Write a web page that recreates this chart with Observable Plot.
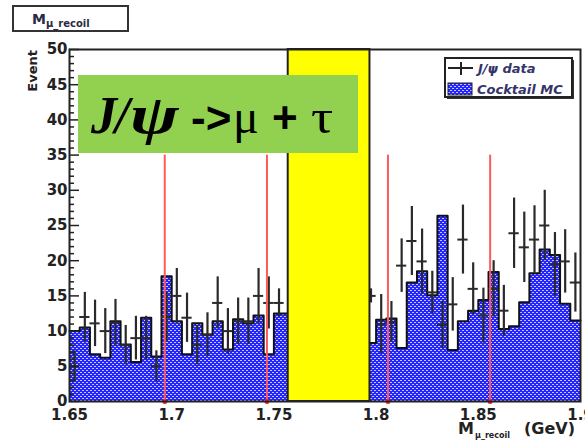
<!DOCTYPE html>
<html>
<head>
<meta charset="utf-8">
<script src="https://cdn.jsdelivr.net/npm/d3@7"></script>
<script src="https://cdn.jsdelivr.net/npm/@observablehq/plot@0.6"></script>
<style>
  body { margin: 0; background: #fff; }
  #chart { width: 585px; height: 441px; overflow: hidden; position: relative; }
  #chart svg { display: block; }
</style>
</head>
<body>
<div id="chart"></div>
<script>
// Recoil mass M(mu_recoil): cocktail MC histogram vs J/psi data, 5 MeV bins.
// Bins under the signal window (1.757–1.797 GeV) are covered and not listed.
const binWidth = 0.005;
const binLow = [
  1.650, 1.655, 1.660, 1.665, 1.670, 1.675, 1.680, 1.685, 1.690, 1.695, 1.700,
  1.705, 1.710, 1.715, 1.720, 1.725, 1.730, 1.735, 1.740, 1.745, 1.750, 1.755,
  1.795, 1.800, 1.805, 1.810, 1.815, 1.820, 1.825, 1.830, 1.835, 1.840, 1.845,
  1.850, 1.855, 1.860, 1.865, 1.870, 1.875, 1.880, 1.885, 1.890, 1.895
];
const mcCounts = [
  10.0, 10.5, 6.7, 6.2, 11.4, 8.1, 5.6, 11.9, 6.4, 17.8, 11.4,
  6.7, 11.1, 9.5, 11.4, 7.4, 11.7, 11.1, 12.2, 6.7, 12.5, 12.5,
  8.3, 11.6, 11.8, 7.6, 16.9, 18.5, 15.1, 26.4, 7.3, 11.4, 12.9,
  14.4, 18.4, 10.3, 10.7, 14.1, 18.2, 21.6, 20.8, 13.9, 11.5
];
const dataCounts = [
  5, 12, 11.1, 10, 11.2, 8, 9, 9, 5, 12, 15,
  11.9, 8, 9.5, 14, 10, 11.4, 11.4, 15, 14, 14, null,
  15, 11, 11.3, 19.3, 22.8, 19.9, 15.5, 10.9, 13.8, 23, 16,
  12.2, 16, 12.9, 23.9, 21.9, 23, 25, 19.5, 19.9, 16.9
];
const dataErrors = [
  2.2, 3.5, 3.3, 3.2, 3.3, 2.8, 3.1, 3.1, 2.2, 3.5, 3.9,
  3.5, 2.8, 3.1, 3.7, 3.2, 3.3, 3.3, 3.9, 3.7, 2.0, null,
  1.0, 4.2, 2.9, 3.8, 4.9, 4.6, 3.0, 3.3, 3.8, 4.9, 3.7,
  3.9, 4.0, 3.6, 5.0, 5.0, 4.8, 5.0, 4.5, 4.5, 4.2
];
const markerLines = [1.6966, 1.7466, 1.8058, 1.8558];
const markerTop = 35;
const signalWindow = [1.757, 1.797];
const xTicks = [1.65, 1.7, 1.75, 1.8, 1.85, 1.9];
const yTicks = [0, 5, 10, 15, 20, 25, 30, 35, 40, 45, 50];
const xDomain = [1.65, 1.9];
const yDomain = [0, 50];

const W = 585, H = 441;
const mL = 69, mR = 5, mT = 49, mB = 40;
const innerW = W - mL - mR;

const bins = binLow.map((lo, i) => ({
  lo, hi: lo + binWidth, mc: mcCounts[i], n: dataCounts[i], err: dataErrors[i]
}));
const points = bins.filter(d => d.n != null);

// histogram outline as stepped segments, split where bins are not contiguous
const outline = [];
let seg = 0;
bins.forEach((d, i) => {
  if (i > 0 && Math.abs(bins[i - 1].hi - d.lo) > 1e-9) seg++;
  outline.push({x: d.lo, y: d.mc, seg}, {x: d.hi, y: d.mc, seg});
});

const minorTicks = d3.range(yDomain[0], yDomain[1] + 1, 1).filter(v => v % 5 !== 0);

const ink = "#222";
const svg = Plot.plot({
  width: W, height: H,
  marginLeft: mL, marginRight: mR, marginTop: mT, marginBottom: mB,
  x: {domain: xDomain},
  y: {domain: yDomain},
  style: {background: "#fff", fontFamily: "DejaVu Sans", fontWeight: "bold", fontSize: "15px", color: ink},
  marks: [
    Plot.rect(bins, {x1: "lo", x2: "hi", y1: 0, y2: "mc", fill: "url(#mcHatch)", shapeRendering: "crispEdges"}),
    Plot.line(outline, {x: "x", y: "y", z: "seg", stroke: "#111", strokeWidth: 2}),
    Plot.ruleX(points, {x: d => d.lo + binWidth / 2, y1: d => d.n - d.err, y2: d => d.n + d.err, stroke: "#2a2a2a", strokeWidth: 2.2}),
    Plot.ruleY(points, {y: "n", x1: "lo", x2: "hi", stroke: "#2a2a2a", strokeWidth: 2}),
    Plot.ruleX(markerLines, {x: d => d, y1: 0, y2: markerTop, stroke: "#ff5a5a", strokeWidth: 2}),
    Plot.dot(markerLines, {x: d => d, y: 0, r: 2.5, fill: "#ff2020", stroke: null}),
    Plot.rect([signalWindow], {x1: d => d[0], x2: d => d[1], y1: yDomain[0], y2: yDomain[1], fill: "#ffff00", stroke: ink, strokeWidth: 2}),
    Plot.ruleY(minorTicks, {insetRight: innerW - 5, stroke: ink, strokeWidth: 1.5}),
    Plot.ruleY(yTicks, {insetRight: innerW - 10, stroke: ink, strokeWidth: 1.5}),
    Plot.frame({stroke: ink, strokeWidth: 2}),
    Plot.axisX({ticks: xTicks, tickSize: 0, tickPadding: 8, tickFormat: d => String(d), label: null, fontSize: 15, fontWeight: "bold"}),
    Plot.axisY({ticks: yTicks, tickSize: 0, tickPadding: 2, tickFormat: d => String(d), label: null, fontSize: 15, fontWeight: "bold"})
  ]
});

document.getElementById("chart").appendChild(svg);

const root = d3.select(svg);
root.attr("overflow", "hidden");

// hatched blue fill used by the MC histogram and its legend key
const defs = root.insert("defs", ":first-child");
const pat = defs.append("pattern")
  .attr("id", "mcHatch").attr("patternUnits", "userSpaceOnUse")
  .attr("width", 4).attr("height", 4);
pat.append("rect").attr("width", 4).attr("height", 4).attr("fill", "#2424ff");
pat.append("rect").attr("x", 0).attr("y", 0).attr("width", 2).attr("height", 1).attr("fill", "#c4c8ff");
pat.append("rect").attr("x", 2).attr("y", 2).attr("width", 2).attr("height", 1).attr("fill", "#c4c8ff");

const ann = root.append("g").attr("fill", ink).attr("text-anchor", "start")
  .attr("font-family", "DejaVu Sans").attr("font-weight", "bold");

// histogram name box
ann.append("rect").attr("x", 13).attr("y", 6).attr("width", 115).attr("height", 25)
  .attr("fill", "#fff").attr("stroke", "#333").attr("stroke-width", 2);
const ttl = ann.append("text").attr("x", 32).attr("y", 24).attr("fill", "#2a2a44");
ttl.append("tspan").attr("font-size", 14).text("M");
ttl.append("tspan").attr("font-size", 10).attr("dy", 3).text("μ_recoil");

// axis titles
ann.append("text").attr("transform", "translate(37,50) rotate(-90)")
  .attr("text-anchor", "end").attr("font-size", 13).text("Event");
ann.append("text").attr("x", 458).attr("y", 434).attr("font-size", 16).text("M");
ann.append("text").attr("x", 475).attr("y", 438).attr("font-size", 8).text("μ_recoil");
ann.append("text").attr("x", 524).attr("y", 434).attr("font-size", 16).text("(GeV)");

// legend
ann.append("rect").attr("x", 447).attr("y", 60).attr("width", 127).attr("height", 39).attr("fill", "#333");
ann.append("rect").attr("x", 445).attr("y", 58).attr("width", 127).attr("height", 39)
  .attr("fill", "#fff").attr("stroke", ink).attr("stroke-width", 2);
ann.append("line").attr("x1", 448).attr("x2", 473).attr("y1", 68).attr("y2", 68).attr("stroke", ink).attr("stroke-width", 2);
ann.append("line").attr("x1", 461).attr("x2", 461).attr("y1", 62).attr("y2", 75).attr("stroke", ink).attr("stroke-width", 2);
ann.append("rect").attr("x", 448).attr("y", 83).attr("width", 24).attr("height", 12)
  .attr("fill", "url(#mcHatch)").attr("stroke", ink).attr("stroke-width", 1);
ann.append("text").attr("x", 478).attr("y", 73).attr("font-size", 13).attr("font-style", "italic")
  .attr("fill", "#34346a").text("J/ψ data");
ann.append("text").attr("x", 477).attr("y", 94).attr("font-size", 13).attr("font-style", "italic")
  .attr("fill", "#34346a").text("Cocktail MC");

// decay-channel label
ann.append("rect").attr("x", 78).attr("y", 75).attr("width", 280).attr("height", 78).attr("fill", "#92d050");
const piece = (x, txt, family, size, opts = {}) => {
  const t = ann.append("text")
    .attr("transform", `translate(${x},133) scale(${opts.sx || 1},1)`)
    .attr("font-family", family).attr("font-size", size).attr("fill", "#000").text(txt);
  if (opts.italic) t.attr("font-style", "italic");
  if (opts.normal) t.attr("font-weight", "normal");
  return t;
};
piece(91, "J", "Liberation Serif", 52, {italic: true});
piece(115, "/", "Liberation Serif", 52, {italic: true});
piece(130, "ψ", "Liberation Serif", 54, {italic: true, sx: 1.35});
piece(191, "->", "Liberation Sans", 44);
piece(233, "μ", "Liberation Serif", 48, {normal: true});
piece(272, "+", "Liberation Sans", 44);
piece(311, "τ", "Liberation Serif", 48, {normal: true, sx: 1.15});
</script>
</body>
</html>
